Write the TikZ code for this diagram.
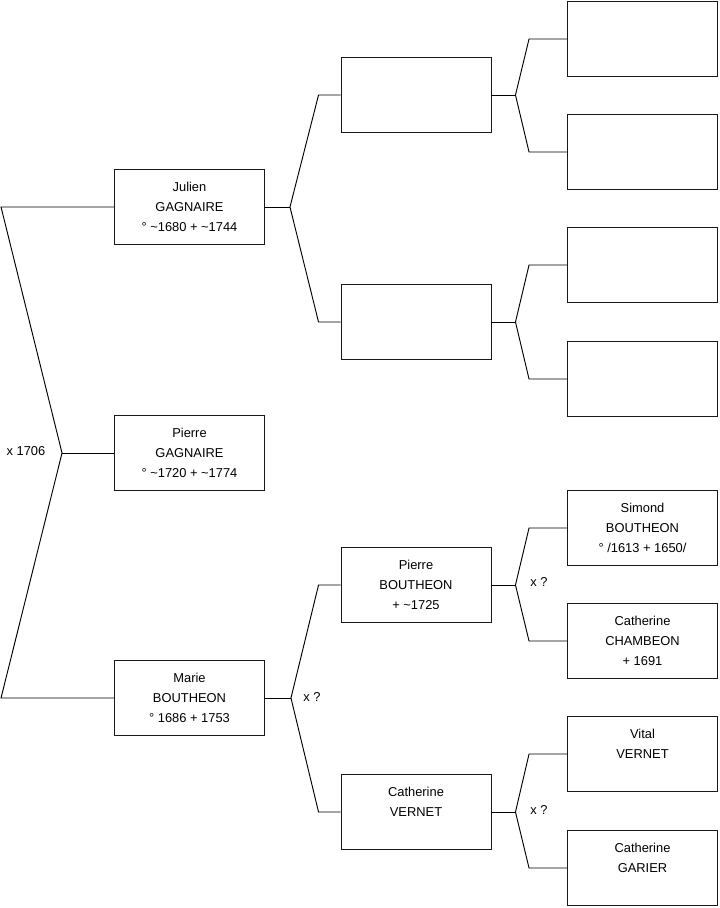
\documentclass[tikz,border=0pt]{standalone}
\usepackage{fontspec}
\setmainfont{Liberation Sans}
\usepackage{tikz}
\usetikzlibrary{calc, positioning}

\begin{document}
\begin{tikzpicture}[x=0.03cm, y=-0.03cm, line width=0.8pt,
    person/.style={draw=black!90, fill=white, minimum width=4.5cm, minimum height=2.25cm,
        align=center, inner sep=0pt, font=\fontsize{11}{17}\selectfont},
    mariage/.style={font=\fontsize{11}{17}\selectfont, inner sep=0pt},
    lien/.style={draw=black}]
    \useasboundingbox (0,0) rectangle (719,908);

    % Génération 1
    \node[person] (julien) at (189.5,207) {Julien\\GAGNAIRE\\° \textasciitilde1680 + \textasciitilde1744};
    \node[person] (pierre) at (189.5,453) {Pierre\\GAGNAIRE\\° \textasciitilde1720 + \textasciitilde1774};
    \node[person] (marie) at (189.5,698) {Marie\\BOUTHEON\\° 1686 + 1753};

    % Génération 2
    \node[person] (pj) at (416,95) {};
    \node[person] (mj) at (416,322) {};
    \node[person] (pm) at (416,585) {Pierre\\BOUTHEON\\+ \textasciitilde1725};
    \node[person] (mm) at (416,812) {Catherine\\VERNET\\\mbox{}};

    % Génération 3
    \node[person] (ppj) at (642.5,39) {};
    \node[person] (mpj) at (642.5,152) {};
    \node[person] (pmj) at (642.5,265) {};
    \node[person] (mmj) at (642.5,379) {};
    \node[person] (ppm) at (642.5,528) {Simond\\BOUTHEON\\° /1613 + 1650/};
    \node[person] (mpm) at (642.5,641) {Catherine\\CHAMBEON\\+ 1691};
    \node[person] (pmm) at (642.5,754) {Vital\\VERNET\\\mbox{}};
    \node[person] (mmm) at (642.5,868) {Catherine\\GARIER\\\mbox{}};

    % Mariage des parents
    \draw[lien] (julien.west) -- ++(-113,0) -- ($(pierre.west)+(-52,0)$)
        -- ($(marie.west)+(-113,0)$) -- (marie.west);
    \draw[lien] (pierre.west) -- ++(-52,0);
    \node[mariage] (x0) at (26,451) {x 1706};

    % Accolades vers les parents
    \foreach \p/\a/\b/\d/\e in {julien/pj/mj/25/22, marie/pm/mm/26/22,
        pj/ppj/mpj/24/38, mj/pmj/mmj/24/38, pm/ppm/mpm/24/38, mm/pmm/mmm/24/38} {
        \draw[lien] (\a.west) -- ++(-\e,0) -- ($(\p.east)+(\d,0)$)
            -- ($(\b.west)+(-\e,0)$) -- (\b.west);
        \draw[lien] (\p.east) -- ++(\d,0);
    }
    \node[mariage] (x1) at (312,697) {x ?};
    \node[mariage] (x2) at (539,582) {x ?};
    \node[mariage] (x3) at (539,810) {x ?};
\end{tikzpicture}
\end{document}
